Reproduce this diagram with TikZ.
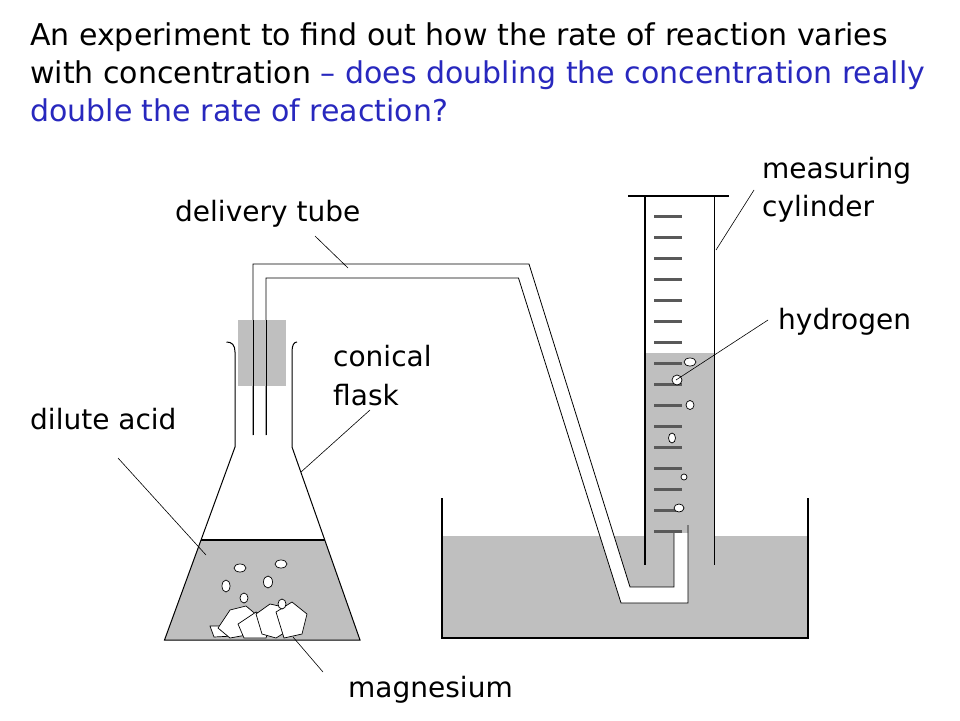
\documentclass[tikz,border=0pt]{standalone}
\usepackage{fontspec}
\setmainfont{DejaVu Sans}
\begin{document}
\begin{tikzpicture}[x=1pt,y=-1pt,
  lbl/.style={anchor=base west,inner sep=0,font=\fontsize{28}{30}\selectfont},
  lead/.style={draw=black,line width=0.6pt},
  wall/.style={draw=black,line width=1.2pt},
  tubel/.style={draw=black,line width=0.8pt},
  tick/.style={draw=gray!70!black,line width=3pt},
  bub/.style={draw=black,fill=white,line width=0.7pt}]
\useasboundingbox (0,0) rectangle (960,720);
\definecolor{liq}{gray}{0.75}
\definecolor{ttl}{RGB}{40,40,190}
% title
\node[anchor=north west,inner sep=0,align=left,font=\fontsize{30}{38}\selectfont] (title) at (30,23)
 {An experiment to find out how the rate of reaction varies\\
  with concentration \textcolor{ttl}{– does doubling the concentration really}\\
  \textcolor{ttl}{double the rate of reaction?}};
% trough
\fill[liq] (442,536) rectangle (808,638);
\draw[wall] (442,498) -- (442,638) -- (808,638) -- (808,498);
% cylinder
\fill[liq] (645,353) rectangle (714.5,565);
\draw[wall,line width=1.8pt] (628,196) -- (729,196);
\draw[wall,line width=1.8pt] (645,196) -- (645,565);
\draw[wall,line width=1.8pt] (714.5,196) -- (714.5,565);
\foreach \k in {0,...,15} \draw[tick] (654,{216+21*\k}) -- (682,{216+21*\k});
\foreach \p/\a/\b in {{(690,362)}/6/4, {(677,380)}/5/5, {(690,405)}/4/4.5, {(672,438)}/3.5/5, {(684,477)}/3/3, {(679,508)}/5/4}
  \draw[bub] \p ellipse ({\a} and {\b});
% delivery tube
\fill[white] (253,435) -- (253,264) -- (529,264) -- (630,587) -- (674,587) -- (674,533) -- (688,533) -- (688,603) -- (621,603) -- (518.5,278) -- (266,278) -- (266,435) -- cycle;
\draw[tubel] (253,435) -- (253,264) -- (529,264) -- (630,587) -- (674,587) -- (674,533);
\draw[tubel] (266,435) -- (266,278) -- (518.5,278) -- (621,603) -- (688,603) -- (688,525);
% flask
\fill[liq] (201,540) -- (324.8,540) -- (360,640) -- (164.5,640) -- cycle;
\draw[wall,line width=1pt] (226.5,342) .. controls (232,342) and (235,345) .. (235,352) -- (235,447) -- (164.5,640) -- (360,640) -- (292,447) -- (292,352) .. controls (292,345) and (294,342) .. (297,342);
\draw[wall,line width=1.4pt] (201,540) -- (324.8,540);
\fill[liq] (238,320) rectangle (286,386);
\draw[tubel] (253,435) -- (253,320);
\draw[tubel] (266,435) -- (266,320);
\foreach \p/\a/\b in {{(240,568)}/6/4, {(281,564)}/6/4, {(226,586)}/4/6, {(268,582)}/4.5/6}
  \draw[bub] \p ellipse ({\a} and {\b});
% magnesium
\draw[bub] (210,626) -- (230,626) -- (234,636) -- (214,637) -- cycle;
\draw[bub] (218,628) -- (230,610) -- (246,606) -- (258,616) -- (252,634) -- (230,638) -- cycle;
\draw[bub] (238,624) -- (256,612) -- (272,620) -- (266,638) -- (244,638) -- cycle;
\draw[bub] (256,614) -- (270,604) -- (288,608) -- (292,628) -- (276,638) -- (262,634) -- cycle;
\draw[bub] (276,612) -- (292,602) -- (307,614) -- (302,634) -- (284,638) -- cycle;
\draw[bub] (244,598) ellipse (4 and 5);
\draw[bub] (282,604) ellipse (4 and 5);
% labels
\node[lbl] (ldt) at (175,221) {delivery tube};
\node[lbl] (lmc1) at (762,178) {measuring};
\node[lbl] (lmc2) at (762,216) {cylinder};
\node[lbl] (lh) at (778,329) {hydrogen};
\node[lbl] (lcf1) at (333,366) {conical};
\node[lbl] (lcf2) at (333,405) {flask};
\node[lbl] (lda) at (30,429) {dilute acid};
\node[lbl] (lmg) at (348,697) {magnesium};
\coordinate (tdt) at (348,268);
\coordinate (tmc) at (716,250);
\coordinate (th) at (676,380);
\coordinate (tcf) at (301,472);
\coordinate (tda) at (206,555);
\coordinate (tmg) at (293,637);
\draw[lead] (315,236) -- (tdt);
\draw[lead] (754,190) -- (tmc);
\draw[lead] (768,320) -- (th);
\draw[lead] (370,410) -- (tcf);
\draw[lead] (118,458) -- (tda);
\draw[lead] (323,672) -- (tmg);
\end{tikzpicture}
\end{document}
